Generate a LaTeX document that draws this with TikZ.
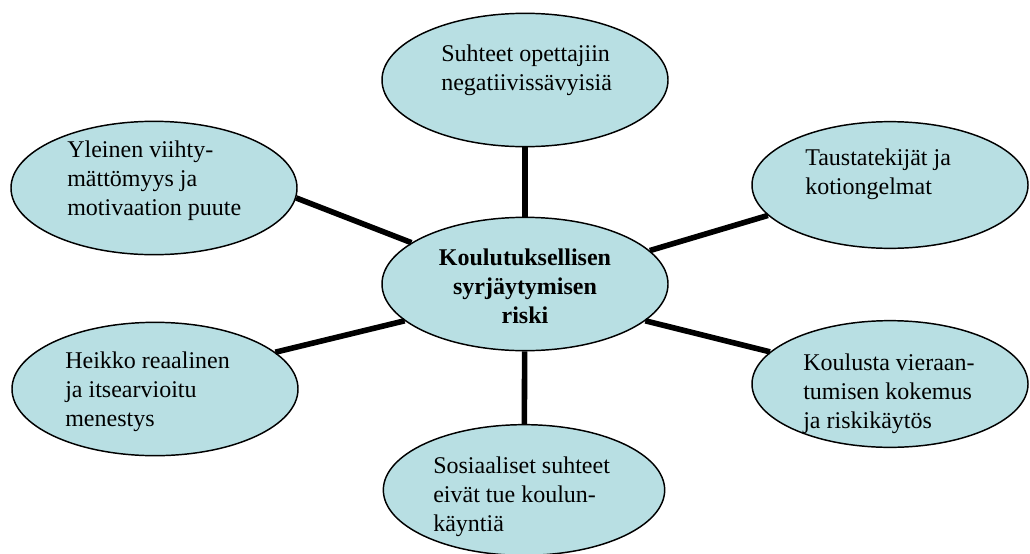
\documentclass[tikz,border=0pt]{standalone}
\usepackage{fontspec}
\setmainfont{Liberation Serif}
\usepackage{tikz}
\usetikzlibrary{shapes.geometric}
\definecolor{vaalea}{RGB}{184,223,227}

\begin{document}
\begin{tikzpicture}[x=0.75pt, y=-0.75pt,
	pallo/.style={ellipse, draw=black, line width=1.1pt, fill=vaalea, inner sep=0pt, minimum width=214.5pt, minimum height=100pt},
	kapea/.style={pallo, minimum width=207pt, minimum height=95pt},
	teksti/.style={anchor=north west, align=left, inner sep=0pt, font=\fontsize{18}{21.75}\selectfont},
	yhteys/.style={line width=4.2pt, black}]
				\useasboundingbox (0, 0) rectangle (1030, 553);
				% ellipses
				\node[pallo] (opet) at (525, 80) {};
				\node[pallo] (keski) at (525, 284) {};
				\node[pallo] (yleinen) at (154, 188) {};
				\node[kapea] (tausta) at (890, 185) {};
				\node[pallo] (heikko) at (155, 389) {};
				\node[kapea] (koulusta) at (890, 384) {};
				\node[pallo, minimum width=211pt, minimum height=98pt] (sosiaali) at (524, 490) {};
				% connectors from the centre
				\draw[yhteys] (keski) -- (opet);
				\draw[yhteys] (keski) -- (sosiaali);
				\draw[yhteys] (yleinen.-4) -- (keski.160);
				\draw[yhteys] (keski.15) -- (tausta.-166);
				\draw[yhteys] (heikko.17) -- (keski.-163);
				\draw[yhteys] (keski.-17) -- (koulusta.165);
				% texts
				\node[teksti] (t-opet) at (441, 45) {Suhteet opettajiin\\negatiivissävyisiä};
				\node[teksti, anchor=north, align=center, font=\fontsize{18}{21.75}\selectfont\bfseries] (t-keski) at (525, 249) {Koulutuksellisen\\syrjäytymisen\\riski};
				\node[teksti] (t-yleinen) at (67, 141) {Yleinen viihty-\\mättömyys ja\\motivaation puute};
				\node[teksti] (t-tausta) at (805, 149) {Taustatekijät ja\\kotiongelmat};
				\node[teksti] (t-heikko) at (65, 352) {Heikko reaalinen\\ja itsearvioitu\\menestys};
				\node[teksti] (t-koulusta) at (803, 354) {Koulusta vieraan-\\tumisen kokemus\\ja riskikäytös};
				\node[teksti] (t-sosiaali) at (433, 457) {Sosiaaliset suhteet\\eivät tue koulun-\\käyntiä};
			\end{tikzpicture}
\end{document}
